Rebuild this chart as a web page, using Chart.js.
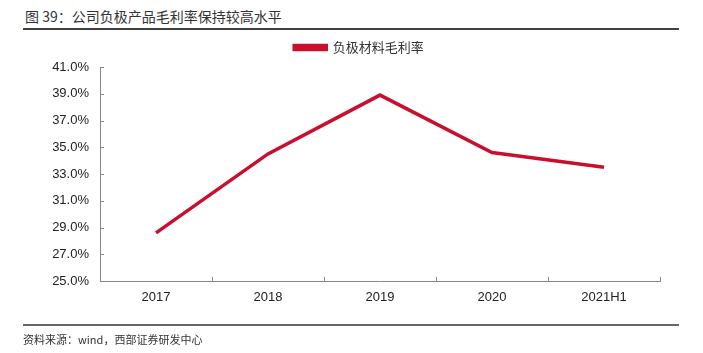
<!DOCTYPE html>
<html>
<head>
<meta charset="utf-8">
<script src="https://cdn.jsdelivr.net/npm/chart.js@4/dist/chart.umd.min.js"></script>
<style>
  html, body { margin: 0; padding: 0; background: #fff; }
  #wrap { position: relative; width: 703px; height: 353px; overflow: hidden; }
  #chart { position: absolute; left: 0; top: 0; }
  .title { position: absolute; left: 25px; top: 6px; font: 14px "Noto Sans CJK SC", sans-serif; color: #333; }
  .rule { position: absolute; left: 23px; width: 656px; height: 2px; background: #404040; }
  .source { position: absolute; left: 23px; top: 331px; font: 11px "Noto Sans CJK SC", sans-serif; color: #333; }
</style>
</head>
<body>
<div id="wrap">
  <div class="title">图 39：公司负极产品毛利率保持较高水平</div>
  <div class="rule" style="top:28px"></div>
  <canvas id="chart" width="703" height="353"></canvas>
  <div class="rule" style="top:324px;background:#666"></div>
  <div class="source">资料来源：wind，西部证券研发中心</div>
</div>
<script>
// data
const years = ["2017", "2018", "2019", "2020", "2021H1"];
const grossMargin = [28.6, 34.5, 38.9, 34.6, 33.5];
const seriesName = "负极材料毛利率";

// small ticks drawn on the inside of both axes
const innerTicks = {
  id: "innerTicks",
  afterDraw(chart) {
    const {ctx} = chart;
    const x = chart.scales.x, y = chart.scales.y;
    ctx.save();
    ctx.strokeStyle = "#888";
    ctx.lineWidth = 1;
    ctx.beginPath();
    y.ticks.forEach(t => {
      const py = Math.round(y.getPixelForValue(t.value)) + 0.5;
      ctx.moveTo(y.right, py);
      ctx.lineTo(y.right + 4, py);
    });
    const n = years.length;
    for (let i = 1; i <= n; i++) {
      const px = Math.round(x.left + i * (x.width / n)) + 0.5;
      ctx.moveTo(px, x.top);
      ctx.lineTo(px, x.top - 4);
    }
    ctx.stroke();
    ctx.restore();
  }
};

// nudge the legend: it sits a bit right of the page centre in the original
const legendNudge = {
  id: "legendNudge",
  beforeDraw(chart) {
    const lg = chart.legend;
    lg.left += 29;
    lg.right += 29;
    lg.top -= 3;
    lg.bottom -= 3;
  }
};

new Chart(document.getElementById("chart").getContext("2d"), {
  type: "line",
  data: {
    labels: years,
    datasets: [{
      label: seriesName,
      data: grossMargin,
      borderColor: "#C8102E",
      backgroundColor: "#C8102E",
      borderWidth: 3.5,
      pointRadius: 0,
      tension: 0
    }]
  },
  options: {
    responsive: false,
    animation: false,
    layout: { padding: { left: 0, right: 43, top: 34, bottom: 42 } },
    plugins: {
      legend: {
        labels: {
          boxWidth: 32,
          boxHeight: 4,
          padding: 10,
          color: "#333",
          font: { family: "Noto Sans CJK SC", size: 13 }
        }
      },
      tooltip: { enabled: false }
    },
    scales: {
      x: {
        offset: true,
        grid: { display: false, drawTicks: false },
        border: { color: "#888" },
        ticks: { padding: 9, color: "#222", font: { family: "Liberation Sans", size: 13 } },
        afterFit(s) { s.height = 30; }
      },
      y: {
        min: 25,
        max: 41,
        grid: { display: false, drawTicks: false },
        border: { color: "#888" },
        ticks: {
          stepSize: 2,
          padding: 11,
          color: "#222",
          font: { family: "Liberation Sans", size: 13 },
          callback: v => v.toFixed(1) + "%"
        },
        afterFit(s) { s.width = 100; }
      }
    }
  },
  plugins: [innerTicks, legendNudge]
});
</script>
</body>
</html>
